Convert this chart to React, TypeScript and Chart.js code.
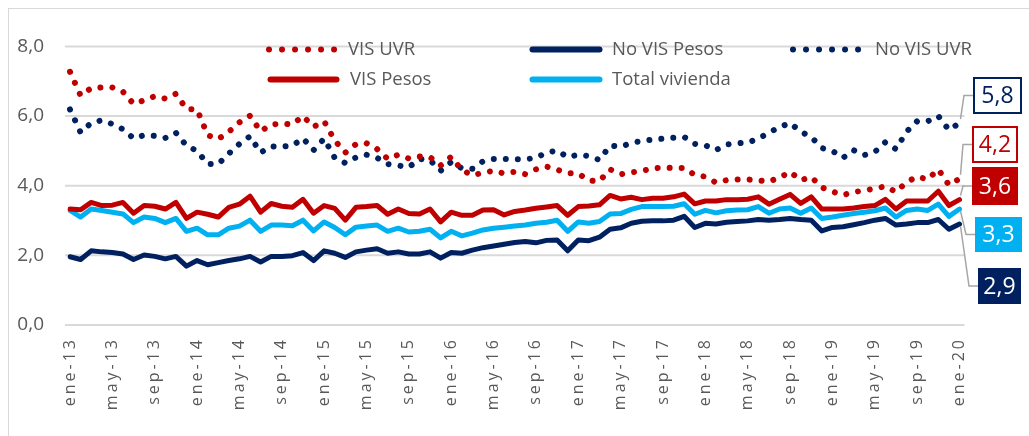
import React, { useEffect, useRef } from 'react';
import { Chart, registerables } from 'chart.js';

Chart.register(...registerables);

// ---------- data ----------
const MONTHS = ['ene', 'feb', 'mar', 'abr', 'may', 'jun', 'jul', 'ago', 'sep', 'oct', 'nov', 'dic'];
const YEARS = ['13', '14', '15', '16', '17', '18', '19', '20'];
const categories: string[] = [];
YEARS.forEach((yy, yi) =>
  MONTHS.forEach((m, mi) => {
    if (yi < YEARS.length - 1 || mi === 0) categories.push(`${m}-${yy}`);
  })
);

const visUvr = [
  7.27, 6.59, 6.8, 6.82, 6.82, 6.7, 6.35, 6.45, 6.57, 6.5,
  6.64, 6.2, 6.19, 5.45, 5.34, 5.55, 5.82, 6.01, 5.56, 5.76,
  5.78, 5.76, 6.0, 5.69, 5.85, 5.3, 4.95, 5.19, 5.22, 5.05,
  4.77, 4.89, 4.78, 4.84, 4.82, 4.58, 4.83, 4.45, 4.3, 4.37,
  4.43, 4.35, 4.4, 4.33, 4.47, 4.55, 4.46, 4.36, 4.35, 4.15,
  4.13, 4.47, 4.33, 4.38, 4.42, 4.5, 4.52, 4.51, 4.51, 4.31,
  4.26, 4.09, 4.16, 4.18, 4.18, 4.15, 4.12, 4.23, 4.4, 4.16,
  4.25, 3.95, 3.83, 3.73, 3.82, 3.86, 3.92, 3.98, 3.82, 4.1,
  4.26, 4.18, 4.47, 4.02, 4.2,
];

const noVisPesos = [
  1.96, 1.88, 2.13, 2.1, 2.08, 2.04, 1.88, 2.01, 1.97, 1.9,
  1.97, 1.69, 1.85, 1.73, 1.79, 1.85, 1.9, 1.97, 1.81, 1.97,
  1.97, 1.99, 2.08, 1.85, 2.13, 2.06, 1.94, 2.1, 2.15, 2.19,
  2.06, 2.1, 2.04, 2.04, 2.1, 1.92, 2.08, 2.06, 2.15, 2.22,
  2.27, 2.32, 2.37, 2.4, 2.36, 2.43, 2.44, 2.13, 2.44, 2.42,
  2.52, 2.75, 2.79, 2.92, 2.98, 2.99, 2.99, 3.01, 3.12, 2.8,
  2.92, 2.9, 2.95, 2.97, 2.99, 3.03, 3.01, 3.03, 3.06, 3.03,
  3.01, 2.7, 2.8, 2.82, 2.88, 2.94, 3.01, 3.06, 2.87, 2.9,
  2.94, 2.94, 3.03, 2.75, 2.9,
];

const noVisUvr = [
  6.19, 5.53, 5.8, 5.88, 5.77, 5.62, 5.36, 5.45, 5.43, 5.37,
  5.52, 5.15, 5.0, 4.62, 4.62, 4.92, 5.2, 5.42, 4.95, 5.13,
  5.12, 5.15, 5.36, 5.02, 5.35, 4.8, 4.65, 4.81, 4.89, 4.8,
  4.62, 4.58, 4.53, 4.77, 4.73, 4.43, 4.68, 4.5, 4.49, 4.7,
  4.77, 4.77, 4.76, 4.76, 4.8, 4.95, 5.01, 4.82, 4.89, 4.85,
  4.74, 5.15, 5.12, 5.22, 5.29, 5.32, 5.35, 5.38, 5.4, 5.2,
  5.16, 5.02, 5.18, 5.22, 5.24, 5.35, 5.52, 5.68, 5.8, 5.55,
  5.4, 5.08, 5.0, 4.8, 5.02, 4.88, 4.97, 5.25, 5.05, 5.55,
  5.85, 5.85, 6.0, 5.6, 5.8,
];

const visPesos = [
  3.33, 3.31, 3.52, 3.43, 3.44, 3.52, 3.21, 3.43, 3.41, 3.33,
  3.52, 3.06, 3.24, 3.18, 3.1, 3.38, 3.47, 3.7, 3.24, 3.49,
  3.41, 3.38, 3.61, 3.21, 3.43, 3.35, 3.01, 3.38, 3.4, 3.43,
  3.18, 3.33, 3.2, 3.19, 3.33, 2.96, 3.24, 3.15, 3.15, 3.3,
  3.31, 3.16, 3.26, 3.3, 3.35, 3.39, 3.43, 3.15, 3.4, 3.42,
  3.45, 3.72, 3.62, 3.67, 3.6, 3.64, 3.64, 3.68, 3.76, 3.48,
  3.56, 3.56, 3.6, 3.6, 3.61, 3.68, 3.47, 3.61, 3.75, 3.49,
  3.68, 3.33, 3.33, 3.33, 3.36, 3.4, 3.43, 3.61, 3.33, 3.56,
  3.56, 3.56, 3.84, 3.43, 3.6,
];

const totalVivienda = [
  3.29, 3.1, 3.33, 3.29, 3.24, 3.19, 2.94, 3.1, 3.06, 2.94,
  3.06, 2.69, 2.78, 2.59, 2.59, 2.78, 2.84, 3.01, 2.69, 2.87,
  2.87, 2.85, 3.01, 2.7, 2.96, 2.8, 2.59, 2.81, 2.84, 2.87,
  2.69, 2.78, 2.67, 2.69, 2.75, 2.5, 2.69, 2.56, 2.64, 2.73,
  2.78, 2.81, 2.84, 2.87, 2.92, 2.95, 3.01, 2.69, 2.96, 2.92,
  2.97, 3.19, 3.2, 3.32, 3.4, 3.4, 3.4, 3.41, 3.48, 3.18,
  3.29, 3.22, 3.28, 3.3, 3.31, 3.4, 3.21, 3.33, 3.36, 3.21,
  3.36, 3.06, 3.1, 3.15, 3.2, 3.24, 3.28, 3.36, 3.1, 3.29,
  3.33, 3.29, 3.47, 3.12, 3.33,
];

const yTicks = [0, 2, 4, 6, 8];

// ---------- styles ----------
const FONT = '"Open Sans", "DejaVu Sans", sans-serif';
const TEXT = '#595959';
const GRID = '#d9d9d9';
const RED = '#C00000';
const NAVY = '#002060';
const CYAN = '#00B0F0';
const DOT_DASH = [0.01, 12];

// canvas offset from page: 9px (8px margin + 1px border)
const legendLayout = [
  { x1: 260, x2: 325, tx: 339, y: 40.5 },
  { x1: 521, x2: 593, tx: 603, y: 40.5 },
  { x1: 784, x2: 851, tx: 866, y: 40.5 },
  { x1: 259, x2: 330, tx: 341, y: 70.5 },
  { x1: 521, x2: 593, tx: 603, y: 70.5 },
];

const endBoxes = [
  { x: 963, y: 117, w: 46, h: 37, filled: false },
  { x: 969, y: 259, w: 43, h: 36, filled: true },
  { x: 964, y: 68, w: 49, h: 37, filled: false },
  { x: 963, y: 158, w: 46, h: 38, filled: true },
  { x: 966, y: 208, w: 47, h: 35, filled: true },
];

const fmt = (v: number) => v.toFixed(1).replace('.', ',');

const gridPlugin = {
  id: 'customGrid',
  beforeDatasetsDraw(chart: any) {
    const { ctx, chartArea, scales } = chart;
    ctx.save();
    ctx.strokeStyle = GRID;
    ctx.lineWidth = 2;
    yTicks.forEach((v) => {
      const y = scales.y.getPixelForValue(v);
      ctx.beginPath();
      ctx.moveTo(chartArea.left - 5, y);
      ctx.lineTo(chartArea.right + 5, y);
      ctx.stroke();
    });
    ctx.restore();
  },
};

const spacingPlugin = {
  id: 'xLetterSpacing',
  afterLayout(chart: any) {
    const xs = chart.scales.x;
    if (!xs || xs.__wrapped) return;
    const orig = xs.drawLabels.bind(xs);
    xs.drawLabels = (area: any) => {
      const ctx = chart.ctx;
      ctx.save();
      ctx.letterSpacing = '3px';
      orig(area);
      ctx.restore();
    };
    xs.__wrapped = true;
  },
};

const legendPlugin = {
  id: 'customLegend',
  afterDraw(chart: any) {
    const ctx = chart.ctx;
    ctx.save();
    chart.data.datasets.forEach((ds: any, i: number) => {
      const L = legendLayout[i];
      ctx.strokeStyle = ds.borderColor;
      ctx.lineWidth = 6;
      ctx.lineCap = 'round';
      ctx.beginPath();
      if (ds.borderDash) {
        ctx.setLineDash([0.01, 13]);
        ctx.moveTo(L.x1, L.y);
        ctx.lineTo(L.x2 + 1, L.y);
      } else {
        ctx.setLineDash([]);
        ctx.moveTo(L.x1 + 2.5, L.y);
        ctx.lineTo(L.x2 - 2.5, L.y);
      }
      ctx.stroke();
      ctx.setLineDash([]);
      ctx.fillStyle = TEXT;
      ctx.font = `18.5px ${FONT}`;
      ctx.textBaseline = 'middle';
      ctx.textAlign = 'left';
      ctx.fillText(ds.label, L.tx, L.y);
    });
    ctx.restore();
  },
};

const endLabelPlugin = {
  id: 'endLabels',
  afterDraw(chart: any) {
    const ctx = chart.ctx;
    ctx.save();
    chart.data.datasets.forEach((ds: any, i: number) => {
      const meta = chart.getDatasetMeta(i);
      const n = ds.data.length - 1;
      const pt = meta.data[n];
      const B = endBoxes[i];
      const cy = B.y + B.h / 2;
      // leader line
      ctx.strokeStyle = '#a6a6a6';
      ctx.lineWidth = 1.5;
      ctx.setLineDash([]);
      ctx.beginPath();
      const sy = pt.y + (cy < pt.y ? -4 : 2);
      ctx.moveTo(pt.x + 1, sy);
      ctx.lineTo(B.x - 9, cy);
      ctx.lineTo(B.x, cy);
      ctx.stroke();
      // box
      if (B.filled) {
        ctx.fillStyle = ds.borderColor;
        ctx.fillRect(B.x, B.y, B.w, B.h);
      } else {
        ctx.fillStyle = '#ffffff';
        ctx.fillRect(B.x, B.y, B.w, B.h);
        ctx.strokeStyle = ds.borderColor;
        ctx.lineWidth = 2;
        ctx.strokeRect(B.x + 1, B.y + 1, B.w - 2, B.h - 2);
      }
      ctx.fillStyle = B.filled ? '#ffffff' : ds.borderColor;
      ctx.font = `23px ${FONT}`;
      ctx.textAlign = 'center';
      ctx.textBaseline = 'middle';
      ctx.fillText(fmt(ds.data[n]), B.x + B.w / 2, cy + 1);
    });
    ctx.restore();
  },
};

export default function App() {
  const ref = useRef<HTMLCanvasElement>(null);

  useEffect(() => {
    const canvas = ref.current;
    if (!canvas) return;
    const line = (label: string, data: number[], color: string, dotted: boolean) => ({
      label,
      data,
      borderColor: color,
      backgroundColor: color,
      borderWidth: dotted ? 6 : 5,
      borderDash: dotted ? DOT_DASH : undefined,
      borderCapStyle: 'round',
      borderJoinStyle: 'round',
      pointRadius: 0,
      pointHoverRadius: 0,
      tension: 0,
      fill: false,
    });
    const chart = new Chart(canvas, {
      type: 'line',
      data: {
        labels: categories,
        datasets: [
          line('VIS UVR', visUvr, RED, true),
          line('No VIS Pesos', noVisPesos, NAVY, false),
          line('No VIS UVR', noVisUvr, NAVY, true),
          line('VIS Pesos', visPesos, RED, false),
          line('Total vivienda', totalVivienda, CYAN, false),
        ] as any,
      },
      options: {
        animation: false,
        responsive: false,
        layout: { padding: { top: 28, right: 69.5, bottom: 0, left: 0 } },
        plugins: { legend: { display: false }, tooltip: { enabled: false } },
        scales: {
          x: {
            type: 'category',
            offset: false,
            grid: { display: false, drawTicks: false },
            border: { display: false },
            ticks: {
              autoSkip: false,
              minRotation: 90,
              maxRotation: 90,
              padding: 12,
              color: TEXT,
              font: { family: FONT, size: 16 },
              callback: (_v: any, i: number) => (i % 4 === 0 ? categories[i] : ''),
            },
            afterFit: (s: any) => {
              s.height = 111;
            },
          },
          y: {
            min: 0,
            max: 8,
            grid: { display: false, drawTicks: false },
            border: { display: false },
            ticks: {
              stepSize: 2,
              padding: 26,
              color: TEXT,
              font: { family: FONT, size: 19 },
              callback: (v: any) => fmt(Number(v)),
            },
            afterFit: (s: any) => {
              s.width = 61;
            },
          },
        },
      } as any,
      plugins: [gridPlugin, spacingPlugin, legendPlugin, endLabelPlugin],
    });
    return () => chart.destroy();
  }, []);

  return (
    <div
      style={{
        position: 'absolute',
        left: 8,
        top: 8,
        width: 1021,
        height: 428,
        boxSizing: 'border-box',
        borderTop: '1px solid #d9d9d9',
        borderLeft: '1px solid #d9d9d9',
        background: '#ffffff',
        overflow: 'hidden',
      }}
    >
      <canvas ref={ref} width={1020} height={427} style={{ display: 'block' }} />
    </div>
  );
}
